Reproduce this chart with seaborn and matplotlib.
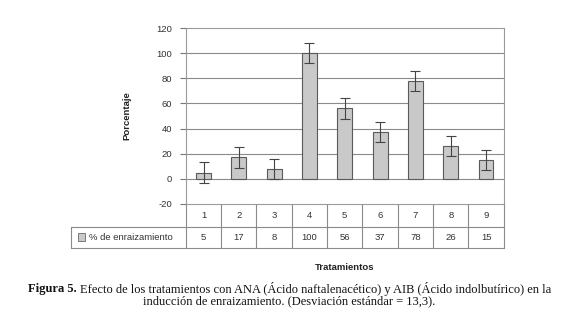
import matplotlib
matplotlib.use("Agg")
import matplotlib.pyplot as plt
import pandas as pd
import seaborn as sns
from matplotlib.patches import Rectangle

# datos
tratamientos = ["1", "2", "3", "4", "5", "6", "7", "8", "9"]
enraizamiento = [5, 17, 8, 100, 56, 37, 78, 26, 15]
error = [8, 8, 8, 8, 8, 8, 8, 8, 8]
y_ticks = [-20, 0, 20, 40, 60, 80, 100, 120]
serie = "% de enraizamiento"

sns.set_theme(style="white")
plt.rcParams["font.family"] = ["Liberation Sans", "DejaVu Sans"]
FS = 6.8

df = pd.DataFrame({"Tratamiento": tratamientos, "Porcentaje": enraizamiento})

fig = plt.figure(figsize=(5.79, 3.30), dpi=100)
ax = fig.add_axes([0.321, 0.382, 0.549, 0.533])

for v in y_ticks[1:-1]:
    ax.axhline(v, color="#8a8a8a", lw=0.8, zorder=0)

sns.barplot(data=df, x="Tratamiento", y="Porcentaje", color="#c9c9c9",
            edgecolor="#5a5a5a", linewidth=0.8, width=0.42, saturation=1,
            errorbar=None, ax=ax, zorder=2)
ax.errorbar(range(len(tratamientos)), enraizamiento, yerr=error, fmt="none",
            ecolor="#444444", elinewidth=0.8, capsize=3.5, capthick=0.8, zorder=3)

ax.set_ylim(-20, 120)
ax.set_xlim(-0.5, len(tratamientos) - 0.5)
ax.set_yticks(y_ticks)
ax.set_yticklabels([str(t) for t in y_ticks], fontsize=FS, color="#333333")
ax.tick_params(axis="y", length=4, width=0.8, color="#777777", pad=6, left=True)
ax.set_xticks([])
ax.set_xlabel("")
ax.set_ylabel("Porcentaje", fontsize=FS, fontweight="bold", color="#222222", labelpad=18)
for s in ax.spines.values():
    s.set_color("#9a9a9a")
    s.set_linewidth(0.8)

# tabla de datos bajo el eje (coordenadas de eje)
n = len(tratamientos)
row_mid, row_bot, left_x = -0.131, -0.25, -0.362
line_kw = dict(color="#8a8a8a", lw=0.8, transform=ax.transAxes, clip_on=False)
for k in range(n + 1):
    ax.plot([k / n, k / n], [0, row_bot], **line_kw)
ax.plot([left_x, left_x], [row_mid, row_bot], **line_kw)
ax.plot([left_x, 1], [row_mid, row_mid], **line_kw)
ax.plot([left_x, 1], [row_bot, row_bot], **line_kw)
for k, (t, v) in enumerate(zip(tratamientos, enraizamiento)):
    xc = (k + 0.5) / n
    ax.text(xc, row_mid / 2, t, ha="center", va="center", fontsize=FS,
            color="#333333", transform=ax.transAxes)
    ax.text(xc, (row_mid + row_bot) / 2, str(v), ha="center", va="center",
            fontsize=FS, color="#333333", transform=ax.transAxes)
ax.add_patch(Rectangle((-0.338, -0.208), 0.022, 0.042, transform=ax.transAxes,
                       facecolor="#c9c9c9", edgecolor="#6a6a6a", lw=0.6,
                       clip_on=False))
ax.text(-0.305, (row_mid + row_bot) / 2, serie, ha="left", va="center",
        fontsize=FS, color="#333333", transform=ax.transAxes)

fig.text(0.596, 0.19, "Tratamientos", ha="center", va="center",
         fontsize=FS, fontweight="bold", color="#222222")

# pie de figura: "Figura 5." en negrita
cap_font = ["Liberation Serif", "DejaVu Serif"]
cap_fs = 9.0
bold_txt = "Figura 5. "
line1 = "Efecto de los tratamientos con ANA (Ácido naftalenacético) y AIB (Ácido indolbutírico) en la"
renderer = fig.canvas.get_renderer()
tb = fig.text(0, 0.124, bold_txt, fontsize=cap_fs, family=cap_font, fontweight="bold",
              va="center", color="#111111")
tn = fig.text(0, 0.124, line1, fontsize=cap_fs, family=cap_font, va="center", color="#111111")
wb = tb.get_window_extent(renderer).width / fig.bbox.width
wn = tn.get_window_extent(renderer).width / fig.bbox.width
x0 = 0.5 - (wb + wn) / 2
tb.set_x(x0)
tn.set_x(x0 + wb)
fig.text(0.5, 0.086, "inducción de enraizamiento. (Desviación estándar = 13,3).",
         ha="center", va="center", fontsize=cap_fs, family=cap_font, color="#111111")

fig.savefig("out.png", dpi=100, facecolor="white")
